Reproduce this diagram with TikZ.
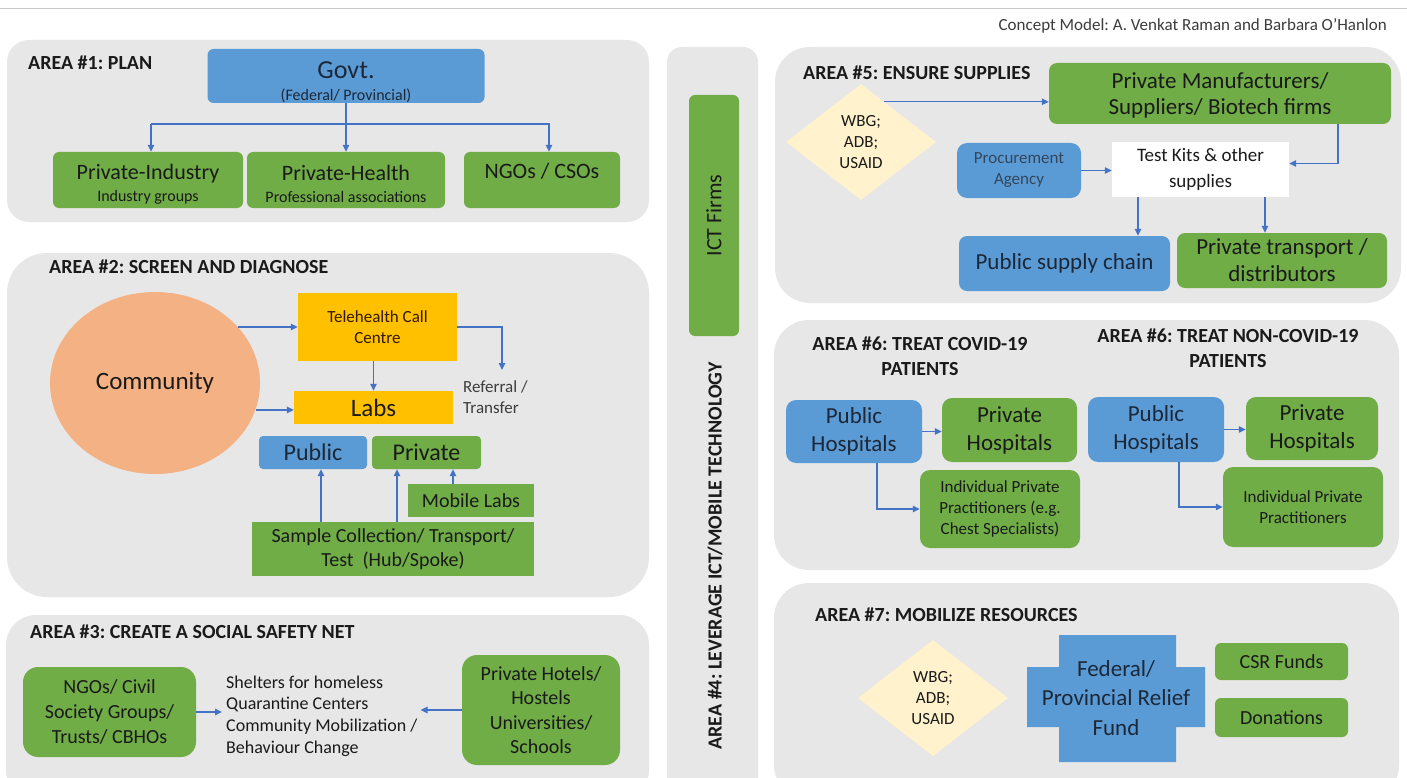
\documentclass[tikz,border=0pt]{standalone}
\usepackage{fontspec}
\setmainfont{Carlito}
\usetikzlibrary{shapes.geometric,arrows.meta,calc}
\definecolor{panel}{HTML}{E7E7E7}
\definecolor{bblue}{HTML}{5B9BD5}
\definecolor{bgreen}{HTML}{70AD47}
\definecolor{byellow}{HTML}{FFC000}
\definecolor{borange}{HTML}{F4B183}
\definecolor{bcream}{HTML}{FFF2CC}
\definecolor{arrowblue}{HTML}{4472C4}
\definecolor{txt}{HTML}{1A1A1A}
\definecolor{navytxt}{HTML}{1C2838}
\definecolor{proctxt}{HTML}{34465C}
\definecolor{rulegray}{HTML}{C8C8C8}
\newcommand{\fsz}[2]{\fontsize{#1}{#2}\selectfont}
\frenchspacing
\begin{document}
\begin{tikzpicture}[x=1pt,y=-1pt,
  box/.style={draw=none, inner sep=0pt, align=center, text=txt},
  gbox/.style={box, fill=bgreen},
  bbox/.style={box, fill=bblue, text=navytxt},
  ybox/.style={box, fill=byellow},
  arr/.style={draw=arrowblue, line width=1.3pt, -{Triangle[length=7pt,width=6.5pt]}},
  title/.style={font=\bfseries\fsz{20}{24}, text=txt, inner sep=0pt, align=center},
  dia/.style={diamond, fill=bcream, minimum width=150pt, minimum height=116pt, inner sep=0pt, align=center, font=\fsz{17}{21}, text=txt},
]
\useasboundingbox (0,0) rectangle (1407,778);
\clip (0,0) rectangle (1407,778);
\fill[white] (0,0) rectangle (1407,778);

% top rule and credit
\draw[rulegray, line width=1pt] (0,9) -- (1407,9);
\node[anchor=east, inner sep=0pt, font=\fsz{17}{20}, text=txt!85] (credit) at (1387,26) {Concept Model: A. Venkat Raman and Barbara O'Hanlon};

% ---------------- AREA 1
\fill[panel, rounded corners=22pt] (7,40) rectangle (649,222);
\node[title, anchor=west] (t1) at (28,63) {AREA \#1: PLAN};
\node[bbox, rounded corners=6pt, minimum width=277pt, minimum height=54pt, font=\fsz{16}{22}] (govt) at (346,76) {{\fsz{26}{30}\rule{0pt}{29pt}Govt.}\\(Federal/ Provincial)};
\node[gbox, rounded corners=6pt, minimum width=190pt, minimum height=56pt, font=\fsz{16}{22}] (pi) at (148,180) {{\fsz{22}{26}\rule{0pt}{24pt}Private-Industry}\\Industry groups};
\node[gbox, rounded corners=6pt, minimum width=198pt, minimum height=56pt, font=\fsz{16}{22}] (ph) at (346,180) {{\fsz{22}{26}\rule{0pt}{24pt}Private-Health}\\Professional associations};
\node[gbox, rounded corners=6pt, minimum width=156pt, minimum height=56pt, font=\fsz{22}{26}] (ngo) at (542,180) {NGOs / CSOs\\[-8pt]\mbox{}};
\coordinate (hbl) at (151,124);
\coordinate (hbr) at (549,124);
\draw[arr] (govt.south) -- (ph.north);
\draw[arr] (hbl) -- (hbl |- pi.north);
\draw[arr] (hbl) -- (hbr) -- (hbr |- ngo.north);

% ---------------- AREA 2
\fill[panel, rounded corners=40pt] (7,253) rectangle (649,597);
\node[title, anchor=west] (t2) at (49,267) {AREA \#2: SCREEN AND DIAGNOSE};
\node[ellipse, fill=borange, minimum width=210pt, minimum height=182pt, inner sep=0pt, font=\fsz{25}{30}, text=txt] (comm) at (155,383) {Community};
\node[ybox, minimum width=159pt, minimum height=68pt, font=\fsz{17}{21}, text=black!80!orange] (tele) at (377.5,327) {Telehealth Call\\Centre};
\node[ybox, minimum width=159pt, minimum height=33pt, font=\fsz{25}{28}] (labs) at (373.5,407.5) {Labs};
\draw[arr] (comm.34) -- (comm.34 -| tele.west);
\draw[arr] (comm.-15) -- (comm.-15 -| labs.west);
\draw[arr] (labs.north |- tele.south) -- (labs.north);
\coordinate (refend) at (502,370);
\draw[arr] (tele.east) -| (refend);
\node[anchor=west, inner sep=0pt, align=left, font=\fsz{17}{21}, text=txt!85] (reftext) at (463,397) {Referral /\\Transfer};
\node[bbox, rounded corners=4pt, minimum width=108pt, minimum height=33pt, font=\fsz{24}{28}] (pub) at (313,452.5) {Public};
\node[gbox, rounded corners=4pt, minimum width=109pt, minimum height=33pt, font=\fsz{24}{28}] (priv) at (426.5,452.5) {Private};
\node[gbox, minimum width=126pt, minimum height=33pt, font=\fsz{20}{24}] (mob) at (471,500.5) {Mobile Labs};
\node[gbox, minimum width=282pt, minimum height=54pt, font=\fsz{20}{24}] (samp) at (393,549) {Sample Collection/ Transport/\\Test~ (Hub/Spoke)};
\coordinate (x1) at (321,0);
\coordinate (x2) at (397,0);
\coordinate (x3) at (453,0);
\draw[arr] (samp.north -| x1) -- (pub.south -| x1);
\draw[arr] (samp.north -| x2) -- (priv.south -| x2);
\draw[arr] (mob.north -| x3) -- (priv.south -| x3);

% ---------------- AREA 3
\fill[panel, rounded corners=30pt] (6,615) rectangle (649,800);
\node[title, anchor=west] (t3) at (30,632) {AREA \#3: CREATE A SOCIAL SAFETY NET};
\node[gbox, rounded corners=15pt, minimum width=173pt, minimum height=90pt, font=\fsz{20}{25}] (ngo3) at (109.5,712) {NGOs/ Civil\\Society Groups/\\Trusts/ CBHOs};
\node[anchor=west, inner sep=0pt, align=left, font=\fsz{18}{21.7}, text=txt] (mid3) at (226,716) {Shelters for homeless\\Quarantine Centers\\Community Mobilization /\\Behaviour Change};
\node[gbox, rounded corners=15pt, minimum width=158pt, minimum height=110pt, font=\fsz{20}{24.5}] (hot) at (541,710) {Private Hotels/\\Hostels\\Universities/\\Schools};
\draw[arr, shorten >=4pt] (ngo3.east) -- (ngo3.east -| mid3.west);
\draw[arr, shorten >=3pt] (hot.west) -- (hot.west -| mid3.east);

% ---------------- AREA 4
\fill[panel, rounded corners=15pt] (667,47) rectangle (758,800);
\node[gbox, rounded corners=6pt, rotate=90, minimum width=241pt, minimum height=50pt, font=\fsz{22}{26}] (ict) at (714,215.5) {ICT Firms};
\node[title, rotate=90] (t4) at (715,556) {AREA \#4: LEVERAGE ICT/MOBILE TECHNOLOGY};

% ---------------- AREA 5
\fill[panel, rounded corners=35pt] (775,47) rectangle (1401,303);
\node[title, anchor=west] (t5) at (803,73) {AREA \#5: ENSURE SUPPLIES};
\node[dia] (dia5) at (861,142) {WBG;\\ADB;\\USAID};
\node[gbox, rounded corners=8pt, minimum width=342pt, minimum height=61pt, font=\fsz{23}{26}] (pm) at (1220,93.5) {\rule{0pt}{20pt}Private Manufacturers/\\Suppliers/ Biotech firms};
\draw[arr] (dia5.60) -- (dia5.60 -| pm.west);
\node[box, fill=white, minimum width=177pt, minimum height=55pt, font=\fsz{19}{26}] (tk) at (1200.5,169.5) {Test Kits \& other\\supplies};
\coordinate (c5) at (1338,0);
\draw[arr] (pm.south -| c5) |- ($(tk.east)+(0,-6)$);
\node[bbox, rounded corners=10pt, minimum width=124pt, minimum height=55pt, font=\fsz{17}{21}, text=proctxt] (proc) at (1019,170.5) {Procurement\\Agency};
\draw[arr] (proc.east) -- (proc.east -| tk.west);
\node[bbox, rounded corners=8pt, minimum width=211pt, minimum height=55pt, font=\fsz{23}{27}] (psc) at (1064.5,263.5) {Public supply chain};
\node[gbox, rounded corners=8pt, minimum width=210pt, minimum height=55pt, font=\fsz{23}{27}] (ptd) at (1282,260.5) {Private transport /\\distributors};
\coordinate (c6) at (1138,0);
\coordinate (c7) at (1265,0);
\draw[arr] (tk.south -| c6) -- (psc.north -| c6);
\draw[arr] (tk.south -| c7) -- (ptd.north -| c7);

% ---------------- AREA 6
\fill[panel, rounded corners=35pt] (774,320) rectangle (1399,570);
\node[title, font=\bfseries\fsz{20}{25}] (t6a) at (920,356) {AREA \#6: TREAT COVID-19\\PATIENTS};
\node[title, font=\bfseries\fsz{20}{25}] (t6b) at (1228,348) {AREA \#6: TREAT NON-COVID-19\\PATIENTS};
\node[bbox, rounded corners=10pt, minimum width=136pt, minimum height=63pt, font=\fsz{23}{28}] (ph1) at (854,431.5) {Public\\Hospitals};
\node[gbox, rounded corners=10pt, minimum width=135pt, minimum height=64pt, font=\fsz{23}{28}] (prh1) at (1009.5,430) {Private\\Hospitals};
\node[gbox, rounded corners=10pt, minimum width=160pt, minimum height=78pt, font=\fsz{17}{21}] (ip1) at (1000,509) {Individual Private\\Practitioners (e.g.\\Chest Specialists)};
\draw[arr] (ph1.east) -- (ph1.east -| prh1.west);
\coordinate (c8) at (877,0);
\draw[arr] (ph1.south -| c8) |- (ip1.west);
\node[bbox, rounded corners=10pt, minimum width=136pt, minimum height=65pt, font=\fsz{23}{28}] (ph2) at (1156,429.5) {Public\\Hospitals};
\node[gbox, rounded corners=10pt, minimum width=132pt, minimum height=63pt, font=\fsz{23}{28}] (prh2) at (1312,428.5) {Private\\Hospitals};
\node[gbox, rounded corners=10pt, minimum width=160pt, minimum height=80pt, font=\fsz{17}{21}] (ip2) at (1303,507) {Individual Private\\Practitioners};
\draw[arr] (ph2.east) -- (ph2.east -| prh2.west);
\coordinate (c9) at (1179,0);
\draw[arr] (ph2.south -| c9) |- (ip2.west);

% ---------------- AREA 7
\fill[panel, rounded corners=35pt] (774,583) rectangle (1399,800);
\node[title, anchor=west] (t7) at (815,615) {AREA \#7: MOBILIZE RESOURCES};
\node[dia] (dia7) at (933,698) {WBG;\\ADB;\\USAID};
\fill[bblue] (1059,635) -- (1176,635) -- (1176,667) -- (1205,667) -- (1205,727) -- (1176,727) -- (1176,762) -- (1059,762) -- (1059,727) -- (1027,727) -- (1027,667) -- (1059,667) -- cycle;
\node[box, text=navytxt, font=\fsz{23}{29.5}] (fund) at (1116,698) {Federal/\\Provincial Relief\\Fund};
\node[gbox, rounded corners=6pt, minimum width=133pt, minimum height=37pt, font=\fsz{20}{24}] (csr) at (1281.5,661.5) {CSR Funds};
\node[gbox, rounded corners=6pt, minimum width=133pt, minimum height=39pt, font=\fsz{20}{24}] (don) at (1281.5,717.5) {Donations};
\end{tikzpicture}
\end{document}
